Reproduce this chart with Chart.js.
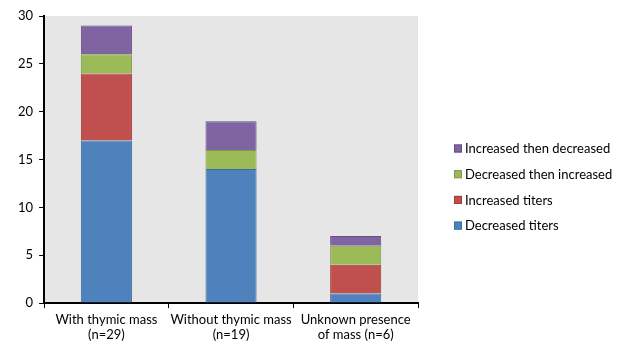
<!DOCTYPE html>
<html><head><meta charset="utf-8">
<script src="https://cdn.jsdelivr.net/npm/chart.js@4/dist/chart.umd.min.js"></script>
<style>html,body{margin:0;padding:0;background:#fff}#wrap{width:625px;height:347px}</style>
</head><body><div id="wrap"><canvas id="c" width="625" height="347"></canvas></div>
<script>
const categories = [["With thymic mass","(n=29)"],["Without thymic mass","(n=19)"],["Unknown presence","of mass (n=6)"]];
const decreasedTiters = [17, 14, 1];
const increasedTiters = [7, 0, 3];
const decreasedThenIncreased = [2, 2, 2];
const increasedThenDecreased = [3, 3, 1];
const yTicks = [0, 5, 10, 15, 20, 25, 30];

const FONT = "Lato";
const bgPlugin = {
  id: 'bg',
  beforeDraw(chart) {
    const {ctx, chartArea:a} = chart;
    ctx.save(); ctx.fillStyle = '#E6E6E6';
    ctx.fillRect(a.left, a.top, a.right - a.left, a.bottom - a.top);
    ctx.restore();
  }
};
const legendPlugin = {
  id: 'sideLegend',
  afterDraw(chart) {
    const {ctx} = chart;
    const items = chart.data.datasets.map((d, i) => ({text: d.label, fill: d.backgroundColor, stroke: d.borderColor})).reverse();
    ctx.save();
    ctx.font = '13px ' + FONT;
    ctx.textBaseline = 'middle';
    ctx.fillStyle = '#000';
    const x0 = 454, y0 = 148.5, step = 25.7;
    items.forEach((it, i) => {
      const y = y0 + i * step;
      ctx.fillStyle = it.fill;
      ctx.fillRect(x0, y - 4, 8, 8);
      ctx.strokeStyle = it.stroke; ctx.lineWidth = 1;
      ctx.strokeRect(x0 + 0.5, y - 3.5, 7, 7);
      ctx.fillStyle = '#000';
      ctx.fillText(it.text, 465, y + 0.5);
    });
    ctx.restore();
  }
};
const ds = (label, data, c, b) => ({label, data, backgroundColor: c, borderColor: b, borderWidth: 1, barPercentage: 0.41, categoryPercentage: 1});
new Chart(document.getElementById('c'), {
  type: 'bar',
  data: {
    labels: categories,
    datasets: [
      ds('Decreased titers', decreasedTiters, '#4F81BD', '#3F6D9F'),
      ds('Increased titers', increasedTiters, '#C0504D', '#9E3A38'),
      ds('Decreased then increased', decreasedThenIncreased, '#9BBB59', '#7F9C43'),
      ds('Increased then decreased', increasedThenDecreased, '#8064A2', '#654C85')
    ]
  },
  options: {
    responsive: false, animation: false,
    layout: {padding: {top: 16, right: 207, left: 12, bottom: 1}},
    plugins: {
      tooltip: {enabled: false},
      legend: {display: false}
    },
    scales: {
      x: {
        stacked: true,
        border: {display: true, color: '#000', width: 2},
        grid: {display: true, drawOnChartArea: false, color: '#000', tickLength: 5, offset: true},
        ticks: {color: '#000', font: {family: FONT, size: 13, lineHeight: 1.15}, maxRotation: 0, padding: 4}
      },
      y: {
        stacked: true, min: 0, max: 30,
        afterBuildTicks(s) { s.ticks = yTicks.map(v => ({value: v})); },
        border: {display: true, color: '#000', width: 2},
        grid: {display: true, drawOnChartArea: false, color: '#000', tickLength: 5},
        ticks: {color: '#000', font: {family: FONT, size: 13}, padding: 6}
      }
    }
  },
  plugins: [bgPlugin, legendPlugin]
});
</script></body></html>
